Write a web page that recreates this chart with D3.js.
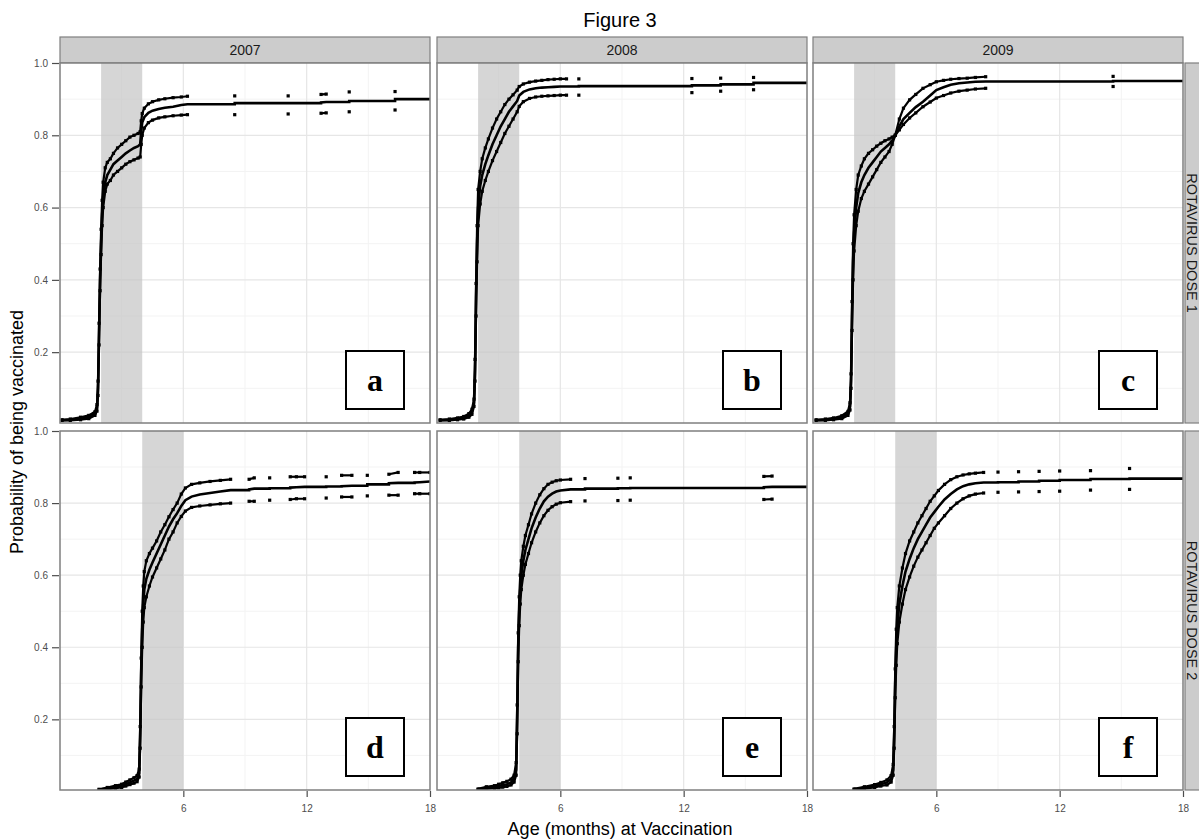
<!DOCTYPE html>
<html>
<head>
<meta charset="utf-8"/>
<title>Figure 3</title>
<script src="https://cdn.jsdelivr.net/npm/d3@7"></script>
<style>
  body { margin: 0; background: #fff; }
  text { font-family: "Liberation Sans", Arial, sans-serif; }
</style>
</head>
<body>
<div id="chart"></div>
<script>
// facet labels
var years = ["2007", "2008", "2009"];
var doses = ["ROTAVIRUS DOSE 1", "ROTAVIRUS DOSE 2"];
var panelLetters = ["a", "b", "c", "d", "e", "f"];
// recommended age window (months) shaded per dose
var bands = [[2, 4], [4, 6]];
var xTicks = [6, 12, 18];
var yTicks = [0.2, 0.4, 0.6, 0.8, 1.0];

// a: 2007, dose 1
var ageA = [0.1,0.5,1.0,1.4,1.7,1.8,1.85,1.9,1.95,2.0,2.05,2.1,2.2,2.3,2.45,2.6,2.8,3.0,3.2,3.4,3.6,3.8,3.9,3.95,4.0,4.1,4.3,4.5,4.8,5.1,5.5,5.9,6.2,8.5,11.1,12.7,12.95,14.07,16.3];
var estA = [0.012,0.013,0.016,0.02,0.03,0.045,0.1,0.25,0.4,0.5,0.58,0.63,0.67,0.69,0.705,0.72,0.73,0.74,0.75,0.758,0.765,0.77,0.775,0.81,0.835,0.85,0.862,0.868,0.873,0.876,0.879,0.884,0.886,0.889,0.889,0.891,0.892,0.895,0.90];
var hiA  = [0.013,0.015,0.02,0.025,0.035,0.055,0.12,0.28,0.43,0.54,0.62,0.67,0.71,0.725,0.735,0.75,0.765,0.775,0.785,0.795,0.80,0.805,0.81,0.84,0.86,0.875,0.887,0.893,0.898,0.901,0.904,0.906,0.908,0.909,0.909,0.913,0.914,0.92,0.921];
var loA  = [0.011,0.011,0.013,0.016,0.025,0.037,0.08,0.22,0.37,0.47,0.55,0.6,0.645,0.665,0.675,0.69,0.70,0.71,0.72,0.727,0.732,0.737,0.74,0.775,0.80,0.82,0.835,0.842,0.848,0.851,0.854,0.856,0.857,0.857,0.859,0.861,0.862,0.865,0.87];

// b: 2008, dose 1
var ageB = [0.15,0.6,1.0,1.3,1.55,1.7,1.8,1.85,1.9,1.95,2.0,2.1,2.2,2.35,2.5,2.7,2.9,3.1,3.3,3.5,3.7,3.9,4.0,4.2,4.5,4.8,5.1,5.4,5.7,6.0,6.3,6.9,12.4,13.8,15.4];
var estB = [0.012,0.013,0.015,0.018,0.025,0.035,0.06,0.15,0.35,0.5,0.6,0.66,0.69,0.72,0.745,0.775,0.8,0.825,0.845,0.865,0.88,0.895,0.91,0.92,0.927,0.93,0.932,0.933,0.934,0.935,0.935,0.936,0.938,0.941,0.945];
var hiB  = [0.013,0.015,0.018,0.022,0.03,0.042,0.07,0.18,0.39,0.55,0.65,0.7,0.735,0.765,0.79,0.82,0.845,0.865,0.885,0.9,0.912,0.925,0.935,0.942,0.947,0.95,0.952,0.954,0.955,0.956,0.956,0.956,0.957,0.958,0.96];
var loB  = [0.011,0.011,0.013,0.015,0.02,0.028,0.05,0.12,0.3,0.45,0.55,0.61,0.645,0.675,0.7,0.73,0.755,0.78,0.805,0.825,0.845,0.865,0.88,0.893,0.902,0.906,0.908,0.909,0.91,0.911,0.911,0.911,0.918,0.922,0.926];

// c: 2009, dose 1
var ageC = [0.15,0.6,1.0,1.4,1.7,1.8,1.85,1.9,1.95,2.0,2.1,2.2,2.35,2.5,2.7,2.9,3.1,3.3,3.5,3.7,3.85,4.0,4.2,4.4,4.7,5.0,5.35,5.7,6.0,6.35,6.7,7.1,7.5,7.9,8.4,14.6];
var estC = [0.012,0.013,0.015,0.02,0.03,0.05,0.12,0.3,0.45,0.53,0.6,0.64,0.67,0.69,0.71,0.725,0.74,0.755,0.765,0.775,0.785,0.8,0.825,0.845,0.862,0.878,0.893,0.91,0.925,0.933,0.94,0.944,0.946,0.948,0.949,0.95];
var hiC  = [0.013,0.015,0.018,0.024,0.036,0.06,0.14,0.34,0.5,0.58,0.65,0.69,0.715,0.735,0.75,0.76,0.77,0.778,0.785,0.79,0.795,0.8,0.845,0.875,0.898,0.913,0.93,0.94,0.948,0.952,0.955,0.957,0.958,0.96,0.962,0.963];
var loC  = [0.011,0.011,0.013,0.016,0.025,0.04,0.1,0.26,0.4,0.48,0.55,0.59,0.625,0.645,0.665,0.685,0.705,0.725,0.74,0.755,0.775,0.8,0.815,0.83,0.848,0.862,0.879,0.892,0.903,0.91,0.917,0.922,0.925,0.928,0.93,0.935];

// d: 2007, dose 2
var ageD = [1.9,2.3,2.7,3.0,3.2,3.4,3.6,3.75,3.85,3.9,3.95,4.0,4.05,4.1,4.2,4.35,4.5,4.7,4.9,5.1,5.3,5.5,5.7,5.9,6.1,6.4,6.8,7.3,7.8,8.3,9.2,9.45,10.2,11.2,11.5,11.9,12.95,13.7,14.2,14.95,16.0,16.45,17.25,17.5,18.0];
var estD = [0.005,0.008,0.012,0.015,0.02,0.025,0.03,0.035,0.05,0.15,0.33,0.45,0.52,0.56,0.59,0.615,0.635,0.66,0.685,0.71,0.735,0.755,0.772,0.792,0.808,0.818,0.824,0.828,0.832,0.836,0.838,0.84,0.841,0.843,0.844,0.845,0.846,0.847,0.848,0.852,0.855,0.856,0.857,0.858,0.86];
var hiD  = [0.006,0.011,0.016,0.02,0.026,0.032,0.038,0.044,0.062,0.18,0.37,0.5,0.57,0.61,0.64,0.66,0.675,0.695,0.72,0.74,0.762,0.782,0.8,0.825,0.842,0.852,0.856,0.86,0.863,0.866,0.866,0.87,0.87,0.873,0.873,0.873,0.873,0.877,0.877,0.877,0.88,0.885,0.885,0.885,0.885];
var loD  = [0.004,0.006,0.009,0.011,0.015,0.019,0.023,0.027,0.04,0.12,0.29,0.4,0.47,0.51,0.54,0.57,0.595,0.62,0.645,0.67,0.7,0.72,0.745,0.763,0.778,0.788,0.792,0.795,0.798,0.8,0.805,0.805,0.808,0.81,0.812,0.812,0.814,0.817,0.817,0.82,0.822,0.822,0.826,0.826,0.826];

// e: 2008, dose 2
var ageE = [2.0,2.4,2.8,3.0,3.2,3.4,3.6,3.75,3.85,3.9,3.95,4.0,4.05,4.1,4.2,4.3,4.45,4.6,4.8,5.0,5.2,5.4,5.6,5.8,6.0,6.5,7.2,8.8,9.4,15.9,16.3];
var estE = [0.006,0.01,0.012,0.015,0.018,0.02,0.025,0.035,0.06,0.2,0.4,0.5,0.56,0.6,0.64,0.67,0.7,0.73,0.76,0.785,0.805,0.818,0.826,0.832,0.835,0.838,0.84,0.841,0.842,0.844,0.845];
var hiE  = [0.007,0.013,0.016,0.02,0.024,0.028,0.034,0.045,0.08,0.24,0.44,0.54,0.6,0.64,0.68,0.71,0.74,0.77,0.8,0.823,0.84,0.852,0.858,0.862,0.864,0.866,0.868,0.869,0.87,0.874,0.875];
var loE  = [0.005,0.007,0.009,0.01,0.012,0.014,0.018,0.026,0.045,0.16,0.36,0.46,0.52,0.56,0.6,0.63,0.66,0.69,0.72,0.745,0.765,0.78,0.79,0.797,0.801,0.804,0.806,0.807,0.808,0.81,0.811];

// f: 2009, dose 2
var ageF = [2.0,2.5,3.0,3.3,3.6,3.8,3.9,3.95,4.0,4.05,4.1,4.2,4.35,4.5,4.7,4.9,5.1,5.3,5.5,5.7,5.9,6.1,6.4,6.7,7.0,7.3,7.6,7.9,8.3,9.0,10.0,11.0,12.0,13.5,15.4];
var estF = [0.006,0.01,0.015,0.02,0.025,0.035,0.06,0.15,0.3,0.4,0.46,0.52,0.57,0.61,0.645,0.675,0.7,0.72,0.74,0.76,0.775,0.79,0.81,0.825,0.838,0.847,0.852,0.855,0.857,0.858,0.86,0.862,0.864,0.867,0.868];
var hiF  = [0.007,0.013,0.019,0.025,0.032,0.044,0.075,0.18,0.34,0.45,0.51,0.57,0.62,0.66,0.695,0.72,0.745,0.765,0.785,0.805,0.82,0.835,0.852,0.865,0.873,0.878,0.881,0.883,0.885,0.886,0.887,0.888,0.889,0.89,0.896];
var loF  = [0.005,0.008,0.011,0.015,0.018,0.026,0.045,0.12,0.26,0.35,0.41,0.47,0.52,0.56,0.595,0.625,0.65,0.67,0.69,0.71,0.73,0.745,0.765,0.785,0.8,0.812,0.82,0.825,0.828,0.83,0.831,0.832,0.833,0.836,0.838];

var panels = [
  {age: ageA, est: estA, hi: hiA, lo: loA},
  {age: ageB, est: estB, hi: hiB, lo: loB},
  {age: ageC, est: estC, hi: hiC, lo: loC},
  {age: ageD, est: estD, hi: hiD, lo: loD},
  {age: ageE, est: estE, hi: hiE, lo: loE},
  {age: ageF, est: estF, hi: hiF, lo: loF}
];

var colX = [60, 437, 813], colW = 370;
var rowY = [63, 431], rowH = [360, 359];
var stripH = 26;
var gapMonths = 0.55;   // events closer than this read as a continuous curve

var svg = d3.select("#chart").append("svg")
    .attr("width", 1199)
    .attr("height", 840);
svg.append("rect").attr("width", 1199).attr("height", 840).attr("fill", "#fff");

// title
svg.append("text")
    .attr("x", 620).attr("y", 27)
    .attr("text-anchor", "middle")
    .style("font-size", "20px")
    .text("Figure 3");

// top strips
years.forEach(function(yr, c) {
    svg.append("rect")
        .attr("x", colX[c]).attr("y", rowY[0] - stripH)
        .attr("width", colW).attr("height", stripH)
        .attr("fill", "#cccccc").attr("stroke", "#7f7f7f").attr("stroke-width", 1.2);
    svg.append("text")
        .attr("x", colX[c] + colW / 2).attr("y", rowY[0] - stripH / 2 + 5)
        .attr("text-anchor", "middle")
        .style("font-size", "14px").style("fill", "#1a1a1a")
        .text(yr);
});

// right strips (the page edge cuts them, as in the figure)
doses.forEach(function(ds, r) {
    svg.append("rect")
        .attr("x", 1185).attr("y", rowY[r])
        .attr("width", stripH).attr("height", rowH[r])
        .attr("fill", "#cccccc").attr("stroke", "#7f7f7f").attr("stroke-width", 1.2);
    svg.append("text")
        .attr("transform", "translate(1186.5," + (rowY[r] + rowH[r] / 2) + ") rotate(90)")
        .attr("text-anchor", "middle")
        .style("font-size", "14.5px").style("fill", "#1a1a1a")
        .text(ds);
});

var lineLin = d3.line();

// step only across wide gaps, so dense stretches read as a smooth curve
function estPath(px) {
    var out = [px[0]];
    for (var j = 1; j < px.length; j++) {
        if (px[j].gap >= gapMonths) out.push([px[j][0], px[j - 1][1]]);
        out.push(px[j]);
    }
    return lineLin(out);
}

panels.forEach(function(p, i) {
    var col = i % 3, row = Math.floor(i / 3);
    var x0 = colX[col], y0 = rowY[row], h = rowH[row];
    var x = d3.scaleLinear().domain([0, 18]).range([x0, x0 + colW]);
    var y = d3.scaleLinear().domain([0.004, 1]).range([y0 + h, y0]);

    var g = svg.append("g");
    g.append("clipPath").attr("id", "clip" + i)
        .append("rect").attr("x", x0).attr("y", y0).attr("width", colW).attr("height", h);

    g.append("rect").attr("x", x0).attr("y", y0).attr("width", colW).attr("height", h).attr("fill", "#fff");

    // grid
    var minorX = [3, 9, 15], minorY = [0.1, 0.3, 0.5, 0.7, 0.9];
    g.selectAll(".mx").data(minorX).enter().append("line")
        .attr("x1", x).attr("x2", x).attr("y1", y0).attr("y2", y0 + h)
        .attr("stroke", "#f3f3f3").attr("stroke-width", 1);
    g.selectAll(".my").data(minorY).enter().append("line")
        .attr("x1", x0).attr("x2", x0 + colW).attr("y1", y).attr("y2", y)
        .attr("stroke", "#f3f3f3").attr("stroke-width", 1);
    g.selectAll(".gx").data([6, 12]).enter().append("line")
        .attr("x1", x).attr("x2", x).attr("y1", y0).attr("y2", y0 + h)
        .attr("stroke", "#e6e6e6").attr("stroke-width", 1.2);
    g.selectAll(".gy").data([0.2, 0.4, 0.6, 0.8]).enter().append("line")
        .attr("x1", x0).attr("x2", x0 + colW).attr("y1", y).attr("y2", y)
        .attr("stroke", "#e6e6e6").attr("stroke-width", 1.2);

    // shaded window
    var b = bands[row];
    g.append("rect")
        .attr("x", x(b[0])).attr("y", y0)
        .attr("width", x(b[1]) - x(b[0])).attr("height", h)
        .attr("fill", "#c4c4c4").attr("opacity", 0.7);

    var marks = g.append("g").attr("clip-path", "url(#clip" + i + ")");

    // confidence bounds: joined where events are close, dots everywhere
    ["hi", "lo"].forEach(function(k) {
        var pts = p.age.map(function(a, j) { return [x(a), y(p[k][j])]; });
        var runs = [], cur = [pts[0]];
        for (var j = 1; j < pts.length; j++) {
            if (p.age[j] - p.age[j - 1] < gapMonths) cur.push(pts[j]);
            else { runs.push(cur); cur = [pts[j]]; }
        }
        runs.push(cur);
        marks.selectAll(null).data(runs.filter(function(r) { return r.length > 1; }))
            .enter().append("path")
            .attr("d", lineLin)
            .attr("fill", "none").attr("stroke", "#000").attr("stroke-width", 2.2);
        marks.selectAll(null).data(pts).enter().append("rect")
            .attr("x", function(d) { return d[0] - 1.6; })
            .attr("y", function(d) { return d[1] - 1.6; })
            .attr("width", 3.2).attr("height", 3.2)
            .attr("fill", "#000");
    });

    // estimate
    var estPts = p.age.map(function(a, j) {
        var pt = [x(a), y(p.est[j])];
        pt.gap = j > 0 ? a - p.age[j - 1] : 0;
        return pt;
    });
    var last = [x(18), y(p.est[p.est.length - 1])];
    last.gap = 0;
    estPts.push(last);
    marks.append("path")
        .attr("d", estPath(estPts))
        .attr("fill", "none").attr("stroke", "#000").attr("stroke-width", 2.6);

    // panel border
    g.append("rect").attr("x", x0).attr("y", y0).attr("width", colW).attr("height", h)
        .attr("fill", "none").attr("stroke", "#7f7f7f").attr("stroke-width", 1.5);

    // letter box
    var bx = x0 + colW - 26 - 58, by = y0 + h - 14 - 58;
    g.append("rect").attr("x", bx).attr("y", by).attr("width", 58).attr("height", 58)
        .attr("fill", "#fff").attr("stroke", "#000").attr("stroke-width", 2);
    g.append("text")
        .attr("x", bx + 29).attr("y", by + 40)
        .attr("text-anchor", "middle")
        .style("font-family", "'Liberation Serif', 'Times New Roman', serif")
        .style("font-weight", "bold").style("font-size", "32px")
        .text(panelLetters[i]);

    // axes
    if (col === 0) {
        var ay = svg.append("g")
            .attr("transform", "translate(" + (x0 - 1) + ",0)")
            .call(d3.axisLeft(y).tickValues(yTicks).tickFormat(d3.format(".1f")).tickSize(7).tickPadding(4));
        ay.select(".domain").remove();
        ay.selectAll("line").attr("stroke", "#4d4d4d").attr("stroke-width", 1.2);
        ay.selectAll("text").style("font-size", "10px").style("fill", "#4d4d4d")
            .style("font-family", "'Liberation Sans', Arial, sans-serif");
    }
    if (row === 1) {
        var ax = svg.append("g")
            .attr("transform", "translate(0," + (y0 + h + 1) + ")")
            .call(d3.axisBottom(x).tickValues(xTicks).tickFormat(d3.format("d")).tickSize(6).tickPadding(8));
        ax.select(".domain").remove();
        ax.selectAll("line").attr("stroke", "#4d4d4d").attr("stroke-width", 1.2);
        ax.selectAll("text").style("font-size", "10px").style("fill", "#4d4d4d")
            .style("font-family", "'Liberation Sans', Arial, sans-serif");
    }
});

// axis titles
svg.append("text")
    .attr("x", 620).attr("y", 835)
    .attr("text-anchor", "middle")
    .style("font-size", "18px")
    .text("Age (months) at Vaccination");
svg.append("text")
    .attr("transform", "translate(23,432) rotate(-90)")
    .attr("text-anchor", "middle")
    .style("font-size", "18px")
    .text("Probability of being vaccinated");
</script>
</body>
</html>
